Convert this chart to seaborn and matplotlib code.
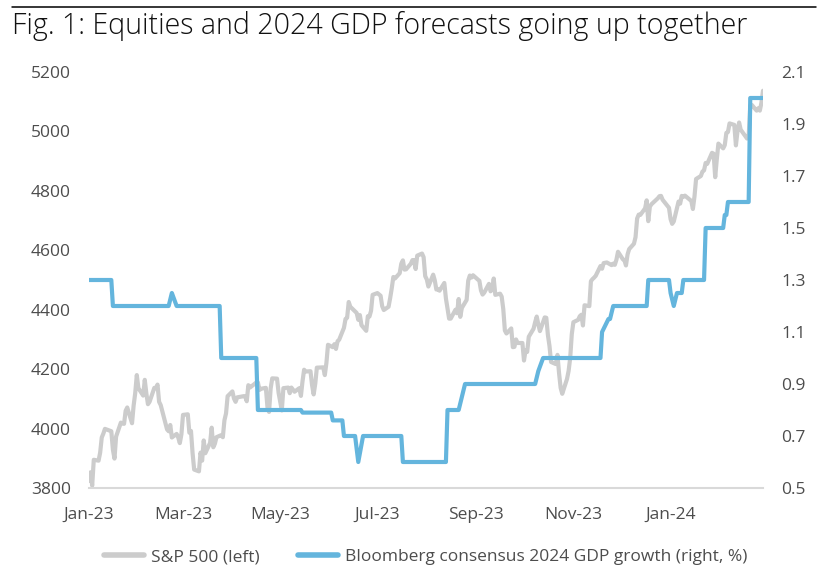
import numpy as np
import pandas as pd
import matplotlib
matplotlib.use("Agg")
import matplotlib.pyplot as plt
import matplotlib.dates as mdates
from matplotlib.lines import Line2D
import seaborn as sns

sns.set_style("white")
plt.rcParams['font.family'] = ['Open Sans', 'DejaVu Sans']

# ---------------- data ----------------
title = "Fig. 1: Equities and 2024 GDP forecasts going up together"
spx_label = "S&P 500 (left)"
gdp_label = "Bloomberg consensus 2024 GDP growth (right, %)"

market_holidays = ["2023-01-02", "2023-01-16", "2023-02-20", "2023-04-07", "2023-05-29",
                   "2023-06-19", "2023-07-04", "2023-09-04", "2023-11-23", "2023-12-25",
                   "2024-01-01", "2024-01-15", "2024-02-19"]

spx_jan23 = [3824, 3853, 3808, 3895, 3892, 3919, 3970, 3983, 3999, 3991, 3929, 3899, 3973,
             4020, 4017, 4016, 4060, 4071, 4018, 4077]
spx_feb23 = [4119, 4180, 4136, 4111, 4164, 4118, 4082, 4090, 4137, 4136, 4148, 4090, 4079,
             3997, 3991, 4012, 3970, 3982, 3970]
spx_mar23 = [3951, 3981, 4046, 4048, 3986, 3992, 3918, 3862, 3856, 3919, 3892, 3960, 3917,
             3952, 4003, 3937, 3949, 3971, 3978, 3971, 4028, 4051, 4109]
spx_apr23 = [4125, 4101, 4090, 4105, 4109, 4109, 4092, 4146, 4138, 4151, 4155, 4155, 4130,
             4134, 4137, 4072, 4056, 4135, 4169]
spx_may23 = [4168, 4120, 4091, 4061, 4136, 4138, 4119, 4138, 4131, 4124, 4136, 4110, 4159,
             4198, 4192, 4193, 4146, 4115, 4151, 4205, 4206, 4180]
spx_jun23 = [4221, 4282, 4274, 4284, 4268, 4294, 4299, 4339, 4369, 4373, 4426, 4410, 4389,
             4366, 4382, 4348, 4329, 4378, 4377, 4396, 4450]
spx_jul23 = [4456, 4447, 4412, 4399, 4410, 4439, 4472, 4510, 4505, 4523, 4555, 4566, 4535,
             4536, 4555, 4567, 4567, 4537, 4582, 4589]
spx_aug23 = [4577, 4513, 4502, 4478, 4518, 4499, 4468, 4469, 4464, 4490, 4438, 4404, 4370,
             4370, 4400, 4388, 4436, 4376, 4406, 4433, 4498, 4515, 4508]
spx_sep23 = [4516, 4497, 4465, 4451, 4457, 4487, 4462, 4467, 4505, 4450, 4454, 4444, 4402,
             4330, 4320, 4337, 4274, 4275, 4300, 4288]
spx_oct23 = [4288, 4229, 4264, 4258, 4309, 4336, 4358, 4377, 4350, 4328, 4374, 4373, 4315,
             4278, 4224, 4217, 4248, 4187, 4137, 4117, 4167, 4194]
spx_nov23 = [4238, 4318, 4358, 4366, 4378, 4383, 4347, 4415, 4412, 4496, 4503, 4508, 4514,
             4547, 4538, 4557, 4559, 4550, 4555, 4551, 4568]
spx_dec23 = [4595, 4570, 4567, 4549, 4586, 4604, 4622, 4644, 4707, 4720, 4719, 4741, 4768,
             4698, 4747, 4755, 4775, 4782, 4783, 4770]
spx_jan24 = [4743, 4705, 4689, 4697, 4764, 4757, 4783, 4780, 4784, 4766, 4739, 4781, 4840,
             4850, 4865, 4869, 4894, 4891, 4928, 4925, 4846]
spx_feb24 = [4906, 4959, 4943, 4954, 4995, 4998, 5027, 5022, 4953, 5001, 5030, 5006, 4976,
             4982, 5087, 5089, 5070, 5078, 5070, 5096]
spx_mar24 = [5137]

gdp_dates = ["2023-01-03", "2023-01-17", "2023-01-18", "2023-02-22", "2023-02-24", "2023-02-27",
             "2023-03-26", "2023-03-27", "2023-04-18", "2023-04-19", "2023-05-16", "2023-05-17",
             "2023-06-04", "2023-06-05", "2023-06-11", "2023-06-12", "2023-06-19", "2023-06-21",
             "2023-06-24", "2023-07-18", "2023-07-19", "2023-08-15", "2023-08-16", "2023-08-23",
             "2023-08-27", "2023-10-10", "2023-10-12", "2023-10-15", "2023-11-20", "2023-11-21",
             "2023-11-25", "2023-11-26", "2023-11-28", "2023-12-19", "2023-12-20", "2024-01-02",
             "2024-01-03", "2024-01-05", "2024-01-07", "2024-01-10", "2024-01-11", "2024-01-24",
             "2024-01-25", "2024-02-05", "2024-02-06", "2024-02-07", "2024-02-08", "2024-02-21",
             "2024-02-22", "2024-03-01"]
gdp_values = [1.3, 1.3, 1.2, 1.2, 1.25, 1.2,
              1.2, 1.0, 1.0, 0.8, 0.8, 0.79,
              0.79, 0.76, 0.76, 0.7, 0.7, 0.6,
              0.7, 0.7, 0.6, 0.6, 0.8, 0.8,
              0.9, 0.9, 0.95, 1.0, 1.0, 1.1,
              1.15, 1.15, 1.2, 1.2, 1.3, 1.3,
              1.25, 1.2, 1.25, 1.25, 1.3, 1.3,
              1.5, 1.5, 1.55, 1.55, 1.6, 1.6,
              2.0, 2.0]

x_tick_dates = ["2023-01-03", "2023-03-03", "2023-05-03", "2023-07-03", "2023-09-03",
                "2023-11-03", "2024-01-03"]
x_tick_labels = ["Jan-23", "Mar-23", "May-23", "Jul-23", "Sep-23", "Nov-23", "Jan-24"]
left_ticks = [3800, 4000, 4200, 4400, 4600, 4800, 5000, 5200]
right_ticks = [0.5, 0.7, 0.9, 1.1, 1.3, 1.5, 1.7, 1.9, 2.1]

# ---------------- build frames ----------------
spx_values = (spx_jan23 + spx_feb23 + spx_mar23 + spx_apr23 + spx_may23 + spx_jun23 +
              spx_jul23 + spx_aug23 + spx_sep23 + spx_oct23 + spx_nov23 + spx_dec23 +
              spx_jan24 + spx_feb24 + spx_mar24)
spx_dates = pd.bdate_range("2023-01-03", "2024-03-01", freq="C", holidays=market_holidays)
n = min(len(spx_dates), len(spx_values))
df_spx = pd.DataFrame({"date": spx_dates[:n], "value": spx_values[:n]})
df_gdp = pd.DataFrame({"date": pd.to_datetime(gdp_dates), "value": gdp_values})

GRAY = "#CCCCCC"
BLUE = "#64B5DD"
TEXT = "#4D4D4D"
AXIS = "#D9D9D9"

W, H = 836, 578
fig = plt.figure(figsize=(W / 100, H / 100), dpi=100)
ax = fig.add_axes([89 / W, 1 - 488 / H, (763 - 89) / W, (488 - 72) / H])
ax2 = ax.twinx()

sns.lineplot(data=df_spx, x="date", y="value", ax=ax, color=GRAY, lw=3.0,
             legend=False, solid_joinstyle="round")
sns.lineplot(data=df_gdp, x="date", y="value", ax=ax2, color=BLUE, lw=3.0,
             legend=False, solid_joinstyle="round")

ax.set_xlim(pd.Timestamp("2023-01-03"), pd.Timestamp("2024-03-01"))
ax.set_ylim(3800, 5200)
ax2.set_ylim(0.5, 2.1)
ax.set_yticks(left_ticks)
ax.set_yticklabels([str(v) for v in left_ticks])
ax2.set_yticks(right_ticks)
ax2.set_yticklabels([f"{v:.1f}" for v in right_ticks])
ax.set_xticks(pd.to_datetime(x_tick_dates))
ax.set_xticklabels(x_tick_labels)

for a in (ax, ax2):
    a.set_xlabel("")
    a.set_ylabel("")
    for s in ("top", "left", "right", "bottom"):
        a.spines[s].set_visible(False)
    a.grid(False)
ax.spines["bottom"].set_visible(True)
ax.spines["bottom"].set_color(AXIS)
ax.spines["bottom"].set_linewidth(1.5)

fs = 12.5
ax.tick_params(axis="x", length=4.5, width=1.2, color=AXIS, direction="out",
               labelsize=fs, labelcolor=TEXT, pad=9)
ax.tick_params(axis="y", length=0, labelsize=fs, labelcolor=TEXT, pad=13)
ax2.tick_params(axis="y", length=0, labelsize=fs, labelcolor=TEXT, pad=13)
ax2.tick_params(axis="x", length=0)

# title and rule
fig.add_artist(Line2D([12 / W, 816 / W], [1 - 7 / H, 1 - 7 / H], color="black", lw=1.1))
fig.text(12 / W, 1 - 34 / H, title, fontsize=20.6, fontweight="light", color="#111111",
         ha="left", va="baseline")

handles = [Line2D([], [], color=GRAY, lw=4), Line2D([], [], color=BLUE, lw=4)]
fig.legend(handles, [spx_label, gdp_label], loc="center", bbox_to_anchor=(0.509, 1 - 557 / H),
           ncol=2, frameon=False, fontsize=fs, labelcolor=TEXT, handlelength=2.3,
           handletextpad=0.4, columnspacing=2.2)

fig.savefig("out.png", dpi=100)
